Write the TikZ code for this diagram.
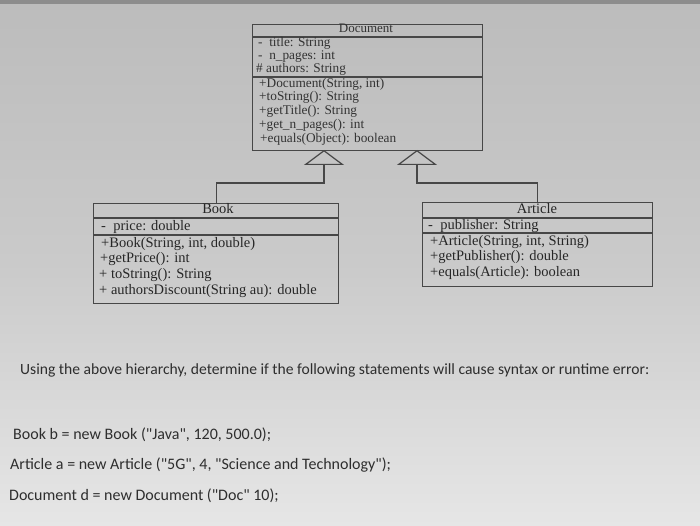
\documentclass[tikz,border=0pt]{standalone}
\usepackage{fontspec}
\setmainfont{Liberation Serif}
\newfontfamily\uifont{Carlito}
\usetikzlibrary{arrows.meta,calc}
\definecolor{linec}{HTML}{474747}
\definecolor{txt}{HTML}{262626}
\definecolor{dtxt}{HTML}{333333}
\definecolor{qtxt}{HTML}{2E2E2E}
\definecolor{bgtop}{HTML}{BCBCBC}
\definecolor{bgmid}{HTML}{CACACA}
\definecolor{bgbot}{HTML}{E6E6E6}
\begin{document}
\begin{tikzpicture}[x=1pt,y=-1pt,
  box/.style={draw=linec, line width=1.2pt, anchor=north west, inner sep=0pt},
  sepline/.style={draw=linec, line width=1.2pt},
  row/.style={anchor=mid west, inner sep=0pt, text=txt, font=\fontsize{14.5}{16}\selectfont},
  drow/.style={anchor=mid west, inner sep=0pt, text=dtxt, font=\fontsize{13.3}{14}\selectfont},
  hdr/.style={anchor=mid, inner sep=0pt, text=txt, font=\fontsize{14.5}{16}\selectfont},
  dhdr/.style={anchor=mid, inner sep=0pt, text=dtxt, font=\fontsize{13}{14}\selectfont},
  qhead/.style={anchor=mid west, inner sep=0pt, text=qtxt, font=\uifont\fontsize{15.6}{17}\selectfont},
  qline/.style={anchor=mid west, inner sep=0pt, text=qtxt, font=\uifont\fontsize{16}{18}\selectfont},
  inh/.style={draw=linec, line width=1.2pt, -{Triangle[open, length=15pt, width=40pt, line width=1.2pt]}}
]
\useasboundingbox (0,0) rectangle (700,526);
\shade[top color=bgtop, bottom color=bgbot, middle color=bgmid] (0,0) rectangle (700,526);
\fill[black, opacity=0.25] (0,0) rectangle (700,4);

% Document
\node[box, minimum width=230pt, minimum height=126pt] (doc) at (252,24) {};
\draw[sepline] ($(doc.north west)+(0,13)$) -- ($(doc.north east)+(0,13)$);
\draw[sepline] ($(doc.north west)+(0,53)$) -- ($(doc.north east)+(0,53)$);
\node[dhdr] (dh) at (366,30.5) {Document};
\node[drow] (d1) at (258,44.5) {-\ \ title: String};
\node[drow] (d2) at (258,57.5) {-\ \ n\_pages: int};
\node[drow] (d3) at (256,70) {\# authors: String};
\node[drow] (d4) at (259,85) {+Document(String, int)};
\node[drow] (d5) at (259,98.5) {+toString(): String};
\node[drow] (d6) at (259,112) {+getTitle(): String};
\node[drow] (d7) at (259,126) {+get\_n\_pages(): int};
\node[drow] (d8) at (260,140) {+equals(Object): boolean};

% Book
\node[box, minimum width=245pt, minimum height=100pt] (book) at (93,203) {};
\draw[sepline] ($(book.north west)+(0,15)$) -- ($(book.north east)+(0,15)$);
\draw[sepline] ($(book.north west)+(0,32)$) -- ($(book.north east)+(0,32)$);
\node[hdr] (bh) at (218,211) {Book};
\node[row] (b1) at (101,228) {-\ \ price: double};
\node[row] (b2) at (101,245) {+Book(String, int, double)};
\node[row] (b3) at (100,260) {+getPrice(): int};
\node[row] (b4) at (99,276) {+ toString(): String};
\node[row] (b5) at (99,292) {+ authorsDiscount(String au): double};

% Article
\node[box, minimum width=230pt, minimum height=84pt] (art) at (422,202) {};
\draw[sepline] ($(art.north west)+(0,16)$) -- ($(art.north east)+(0,16)$);
\draw[sepline] ($(art.north west)+(0,31)$) -- ($(art.north east)+(0,31)$);
\node[hdr] (ah) at (537,211) {Article};
\node[row] (a1) at (428,227.5) {-\ \ publisher: String};
\node[row] (a2) at (430,243) {+Article(String, int, String)};
\node[row] (a3) at (430,258) {+getPublisher(): double};
\node[row] (a4) at (430,274) {+equals(Article): boolean};

% Inheritance connectors
\coordinate (tipL) at (324,150);
\coordinate (tipR) at (417,150);
\draw[inh] (book.north) |- ($(tipL)+(0,33)$) -- (tipL);
\draw[inh] (art.north) |- ($(tipR)+(0,33)$) -- (tipR);

% Question text
\node[qhead] (q0) at (20,372) {Using the above hierarchy, determine if the following statements will cause syntax or runtime error:};
\node[qline] (q1) at (13,437) {Book b = new Book ("Java", 120, 500.0);};
\node[qline] (q2) at (10,467) {Article a = new Article ("5G", 4, "Science and Technology");};
\node[qline] (q3) at (9,498) {Document d = new Document ("Doc" 10);};
\end{tikzpicture}
\end{document}
